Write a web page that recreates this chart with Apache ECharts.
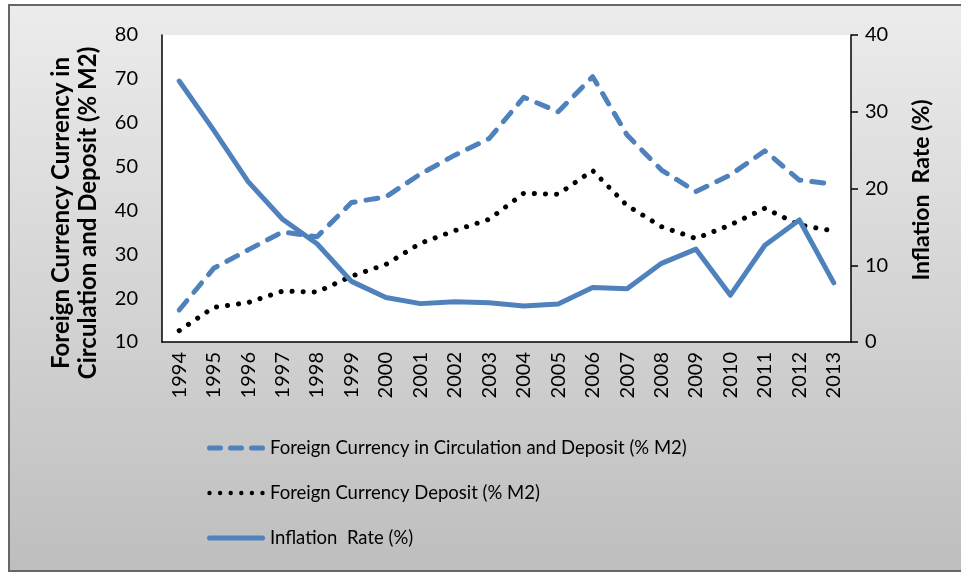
<!DOCTYPE html>
<html>
<head>
<meta charset="utf-8">
<script src="https://cdn.jsdelivr.net/npm/echarts@6/dist/echarts.min.js"></script>
<style>
html,body{margin:0;padding:0;background:#fff;}
#chart{width:961px;height:573px;}
</style>
</head>
<body>
<div id="chart"></div>
<script>
const years = ['1994','1995','1996','1997','1998','1999','2000','2001','2002','2003','2004','2005','2006','2007','2008','2009','2010','2011','2012','2013'];
const fcCirculationDeposit = [17.3,26.8,31.0,35.1,34.0,41.8,43.1,48.3,52.6,56.4,65.8,62.5,70.5,57.2,49.2,44.3,48.1,53.6,46.9,46.0];
const fcDeposit = [12.6,17.9,19.0,21.6,21.4,25.0,27.7,32.5,35.4,38.0,43.9,43.7,49.1,41.1,36.3,33.6,36.7,40.5,36.7,35.3];
const inflation = [34.0,27.6,20.9,16.0,12.8,7.9,5.8,5.0,5.25,5.1,4.7,4.95,7.1,6.95,10.25,12.1,6.1,12.6,15.9,7.7];
const leftTitle = 'Foreign Currency Currency in\nCirculation and Deposit (% M2)';
const rightTitle = 'Inflation  Rate (%)';
const seriesNames = ['Foreign Currency in Circulation and Deposit (% M2)','Foreign Currency Deposit (% M2)','Inflation  Rate (%)'];

// legend icon shapes (58 x 5 box)
function dashPath(){
  const segs=[[0,16],[21,37],[42,58]];
  return 'path://'+segs.map(([a,b])=>`M${a+2.5},0 H${b-2.5} A2.5,2.5 0 0 1 ${b-2.5},5 H${a+2.5} A2.5,2.5 0 0 1 ${a+2.5},0 Z`).join(' ');
}
function dotPath(){
  let p='';
  for(let i=0;i<6;i++){const cx=2.5+i*10.6; p+=`M${cx-2.2},2.5 A2.2,2.2 0 1 0 ${cx+2.2},2.5 A2.2,2.2 0 1 0 ${cx-2.2},2.5 Z `;}
  return 'path://'+p+'M0,0 M58,5';
}
function solidPath(){
  return 'path://M2.5,0 H55.5 A2.5,2.5 0 0 1 55.5,5 H2.5 A2.5,2.5 0 0 1 2.5,0 Z';
}

const FONT = 'Lato';
const BLUE = '#4f81bd';
const chart = echarts.init(document.getElementById('chart'), null, {renderer:'canvas'});
chart.setOption({
  backgroundColor: '#ffffff',
  animation: false,
  textStyle: {fontFamily: FONT, color: '#000'},
  graphic: [
    {type:'rect', z:-10, silent:true, shape:{x:9, y:5, width:960, height:566},
     style:{fill:new echarts.graphic.LinearGradient(0,0,0,1,[{offset:0,color:'#ececec'},{offset:1,color:'#bebebe'}]), stroke:'#666', lineWidth:2}},
    {type:'text', x:75, y:213, rotation:Math.PI/2, silent:true,
     style:{text:leftTitle, fill:'#000', font:'bold 24px Lato', align:'center', verticalAlign:'middle', lineHeight:27}},
    {type:'text', x:922, y:190, rotation:Math.PI/2, silent:true,
     style:{text:rightTitle, fill:'#000', font:'bold 23px Lato', align:'center', verticalAlign:'middle'}}
  ],
  grid: {left:162, right:110, top:35, bottom:231, show:true, backgroundColor:'#ffffff', borderWidth:0, containLabel:false},
  legend: {
    orient:'vertical', left:202, top:433, itemWidth:58, itemHeight:20, itemGap:25,
    textStyle:{fontFamily:FONT, fontSize:18.5, color:'#000', lineHeight:20},
    data: [
      {name:seriesNames[0], icon:dashPath()},
      {name:seriesNames[1], icon:dotPath()},
      {name:seriesNames[2], icon:solidPath()}
    ]
  },
  xAxis: {
    type:'category', data:years, boundaryGap:true,
    axisLine:{show:true, lineStyle:{color:'#000', width:1.5}},
    axisTick:{show:false},
    axisLabel:{rotate:90, margin:10, fontFamily:FONT, fontSize:20, color:'#000', interval:0},
    splitLine:{show:false}
  },
  yAxis: [
    {type:'value', min:10, max:80, interval:10, position:'left',
     axisLine:{show:true, lineStyle:{color:'#000', width:1.5}},
     axisTick:{show:false},
     axisLabel:{margin:24, fontFamily:FONT, fontSize:20, color:'#000'},
     splitLine:{show:false}},
    {type:'value', min:0, max:40, interval:10, position:'right',
     axisLine:{show:true, lineStyle:{color:'#000', width:1.5}},
     axisTick:{show:true, inside:false, length:7, lineStyle:{color:'#000', width:1.5}},
     axisLabel:{margin:14, fontFamily:FONT, fontSize:20, color:'#000'},
     splitLine:{show:false}}
  ],
  series: [
    {name:seriesNames[0], type:'line', yAxisIndex:0, data:fcCirculationDeposit, symbol:'none', color:BLUE,
     lineStyle:{color:BLUE, width:5, type:[12,11], cap:'round', join:'round'}},
    {name:seriesNames[1], type:'line', yAxisIndex:0, data:fcDeposit, symbol:'none', color:'#000',
     lineStyle:{color:'#000', width:5, type:[0.1,11], cap:'round', join:'round'}},
    {name:seriesNames[2], type:'line', yAxisIndex:1, data:inflation, symbol:'none', color:BLUE,
     lineStyle:{color:BLUE, width:5, type:'solid', cap:'round', join:'round'}}
  ]
});
</script>
</body>
</html>
